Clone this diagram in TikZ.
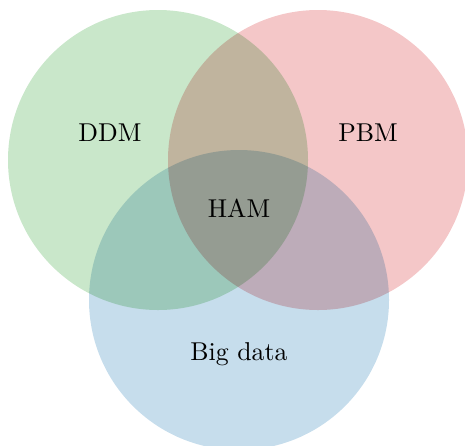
\documentclass[tikz,border=0pt]{standalone}
\usepackage{tikz}
\definecolor{vgreen}{RGB}{201,231,202}
\definecolor{vred}{RGB}{244,199,200}
\definecolor{vblue}{RGB}{198,221,236}
\newlength{\pxu}
\setlength{\pxu}{0.3876pt}
\tikzset{
  setcircle/.style={circle, minimum size=300\pxu, inner sep=0pt, draw=none},
  setlabel/.style={font=\normalsize, text=black}
}
\begin{document}
\begin{tikzpicture}[x=\pxu, y=\pxu]
  \useasboundingbox (0,0) rectangle (465,-445);
  \begin{scope}[blend group=multiply]
    \node[setcircle, fill=vgreen] (ddmc) at (158,-160) {};
    \node[setcircle, fill=vred] (pbmc) at (318,-160) {};
    \node[setcircle, fill=vblue] (bigc) at (239,-300) {};
  \end{scope}
  \node[setlabel] (ddm) at (110,-133) {DDM};
  \node[setlabel] (pbm) at (368,-133) {PBM};
  \node[setlabel] (ham) at (239,-208) {HAM};
  \node[setlabel] (big) at (239,-354) {Big data};
\end{tikzpicture}
\end{document}
